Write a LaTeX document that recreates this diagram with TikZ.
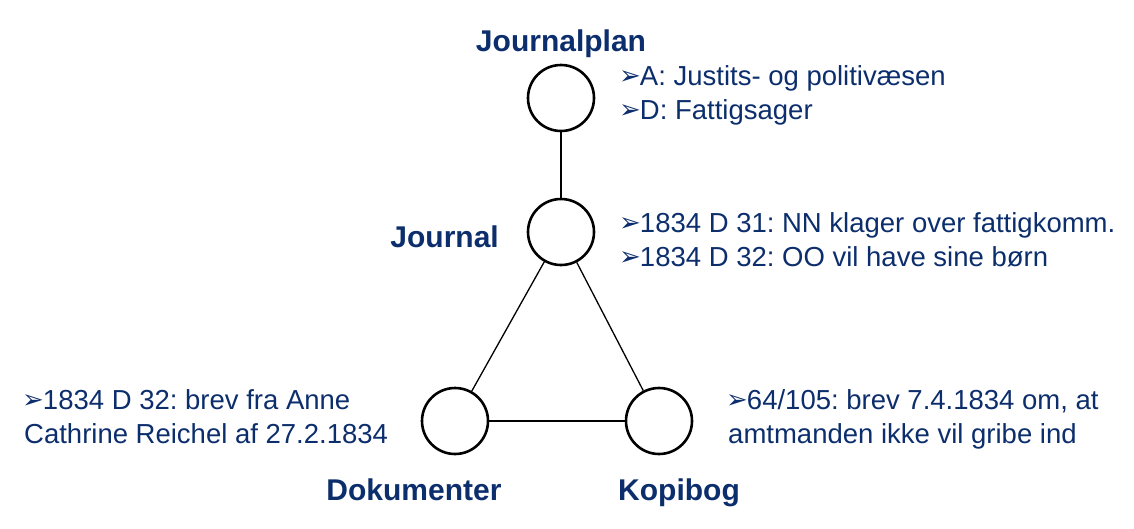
\documentclass[tikz,border=0pt]{standalone}
\usepackage{fontspec}
\setmainfont{Liberation Sans}
\newfontfamily\bulletfont{DejaVu Sans}
\definecolor{textblue}{RGB}{12,46,108}
\frenchspacing
\begin{document}
\begin{tikzpicture}[x=1pt,y=-1pt,
  hub/.style={circle,draw=black,line width=2.6pt,minimum size=66pt,inner sep=0pt},
  conn/.style={draw=black,line width=1.3pt},
  title/.style={text=textblue,font=\fontsize{30}{34}\selectfont\bfseries,inner sep=0pt,anchor=base},
  info/.style={text=textblue,font=\fontsize{27.5}{34}\selectfont\frenchspacing,inner sep=0pt,anchor=base west}]
\useasboundingbox (0,0) rectangle (1134,528);
\newcommand{\bul}{{\bulletfont\fontsize{26}{28}\selectfont\raisebox{0.5pt}{➢}}\kern-1pt}
% circles
\node[hub] (plan) at (561,98) {};
\node[hub] (jour) at (561,232) {};
\node[hub] (dok) at (455,421) {};
\node[hub] (kop) at (659,421) {};
% connectors
\draw[conn] (plan) -- (jour);
\draw[conn] (jour) -- (dok);
\draw[conn] (jour) -- (kop);
\draw[conn] (dok) -- (kop);
% titles
\node[title] (tplan) at (561,51) {Journalplan};
\node[title,anchor=base east] (tjour) at (499,247) {Journal};
\node[title] (tdok) at (414,500) {Dokumenter};
\node[title] (tkop) at (679,500) {Kopibog};
% info texts
\node[info] (a1) at (619,85) {\bul A: Justits- og politivæsen};
\node[info] (a2) at (619,119) {\bul D: Fattigsager};
\node[info] (b1) at (619,232) {\bul 1834 D 31: NN klager over fattigkomm.};
\node[info] (b2) at (619,266) {\bul 1834 D 32: OO vil have sine børn};
\node[info] (c1) at (22,409) {\bul 1834 D 32: brev fra Anne};
\node[info] (c2) at (24,443) {Cathrine Reichel af 27.2.1834};
\node[info] (d1) at (726,409) {\bul 64/105: brev 7.4.1834 om, at};
\node[info] (d2) at (728,443) {amtmanden ikke vil gribe ind};
\end{tikzpicture}
\end{document}
